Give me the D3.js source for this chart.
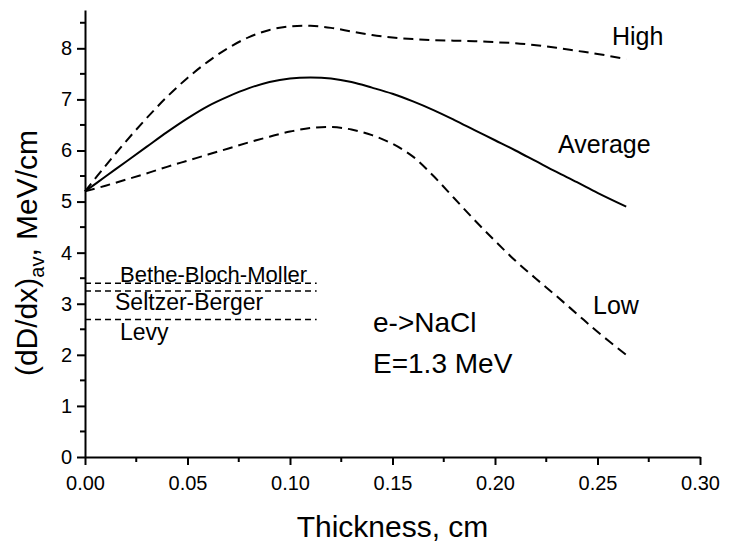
<!DOCTYPE html>
<html><head><meta charset="utf-8">
<script src="https://cdn.jsdelivr.net/npm/d3@7"></script>
<style>
html,body{margin:0;padding:0;background:#fff;}
svg{display:block;font-family:"Liberation Sans",Arial,Helvetica,sans-serif;}
</style></head>
<body><svg id="chart" width="736" height="545"></svg>
<script>
// ---- data ----
const thickness = [0,0.01,0.02,0.03,0.04,0.05,0.06,0.07,0.08,0.09,0.10,0.11,0.12,0.13,0.14,0.15,0.16,0.17,0.18,0.19,0.20,0.21,0.22,0.23,0.24,0.25,0.264];
const highValues = [5.2,5.70,6.18,6.63,7.05,7.42,7.74,8.01,8.22,8.36,8.43,8.44,8.40,8.33,8.26,8.21,8.18,8.16,8.15,8.14,8.12,8.10,8.06,8.01,7.95,7.89,7.79];
const averageValues = [5.2,5.49,5.78,6.07,6.36,6.63,6.87,7.06,7.22,7.34,7.41,7.43,7.41,7.34,7.23,7.11,6.96,6.79,6.60,6.40,6.20,6.00,5.79,5.58,5.38,5.17,4.90];
const lowValues = [5.2,5.31,5.43,5.55,5.68,5.80,5.92,6.04,6.16,6.27,6.37,6.44,6.46,6.41,6.30,6.13,5.88,5.50,5.07,4.64,4.23,3.84,3.49,3.15,2.80,2.45,2.0];
const seriesNames = ["High","Average","Low"];
const refNames = ["Bethe-Bloch-Moller","Seltzer-Berger","Levy"];
const refValues = [3.40,3.25,2.69];
const refRange = [0,0.113];
const xTicks = [0,0.05,0.10,0.15,0.20,0.25,0.30];
const yTicks = [0,1,2,3,4,5,6,7,8];
const annot = ["e->NaCl","E=1.3 MeV"];

// ---- chart ----
const svg = d3.select("#chart");
const x = d3.scaleLinear().domain([0,0.3]).range([85,700]);
const y = d3.scaleLinear().domain([0,8.75]).range([457,10]);

const xMinor = d3.range(0.025,0.3,0.05);
const yMinor = d3.range(0.5,8.75,1);

const gx = svg.append("g").attr("transform","translate(0,457)")
  .call(d3.axisBottom(x).tickValues(xTicks).tickFormat(d3.format(".2f")).tickSize(8).tickSizeOuter(0).tickPadding(11));
gx.append("g").selectAll("line").data(xMinor).join("line")
  .attr("x1",d=>x(d)).attr("x2",d=>x(d)).attr("y1",0).attr("y2",5);
const gy = svg.append("g").attr("transform","translate(85,0)")
  .call(d3.axisLeft(y).tickValues(yTicks).tickFormat(d3.format("d")).tickSize(8).tickSizeOuter(0).tickPadding(5));
gy.append("g").selectAll("line").data(yMinor).join("line")
  .attr("y1",d=>y(d)).attr("y2",d=>y(d)).attr("x1",0).attr("x2",-5);
[gx,gy].forEach(g=>{
  g.selectAll("path,line").attr("stroke","#000").attr("stroke-width",2);
  g.selectAll("text").attr("font-size",20).attr("fill","#000").attr("font-family",'"Liberation Sans",Arial,sans-serif');
});

// axis titles
svg.append("text").attr("x",x(0.15)).attr("y",537).attr("text-anchor","middle")
  .attr("font-size",30).text("Thickness, cm");
const yl = svg.append("text").attr("transform","translate(37,253) rotate(-90)")
  .attr("text-anchor","middle").attr("font-size",30);
yl.append("tspan").text("(dD/dx)");
yl.append("tspan").attr("font-size",20).attr("dy",7).text("av");
yl.append("tspan").attr("dy",-7).text(", MeV/cm");

// curves
const line = d3.line().x((d,i)=>x(thickness[i])).y(d=>y(d)).curve(d3.curveCatmullRom.alpha(0.5));
const seriesData = [highValues,averageValues,lowValues];
svg.append("g").selectAll("path").data(seriesData).join("path")
  .attr("d",d=>line(d)).attr("fill","none").attr("stroke","#000").attr("stroke-width",2)
  .attr("stroke-dasharray",(d,i)=>i===1?null:"10,6");

// reference lines
svg.append("g").selectAll("line").data(refValues).join("line")
  .attr("x1",x(refRange[0])).attr("x2",x(refRange[1]))
  .attr("y1",d=>y(d)).attr("y2",d=>y(d))
  .attr("stroke","#000").attr("stroke-width",1.5).attr("stroke-dasharray","6,4");

// labels
const lab = svg.append("g").attr("fill","#000");
lab.append("text").attr("x",612).attr("y",45).attr("font-size",25).text(seriesNames[0]);
lab.append("text").attr("x",558).attr("y",153).attr("font-size",25).text(seriesNames[1]);
lab.append("text").attr("x",593).attr("y",314).attr("font-size",25).text(seriesNames[2]);
lab.append("text").attr("x",120).attr("y",282).attr("font-size",22).text(refNames[0]);
lab.append("text").attr("x",115).attr("y",310).attr("font-size",23).text(refNames[1]);
lab.append("text").attr("x",120).attr("y",340).attr("font-size",23).text(refNames[2]);
lab.append("text").attr("x",373).attr("y",332).attr("font-size",28).text(annot[0]);
lab.append("text").attr("x",373).attr("y",373).attr("font-size",28).text(annot[1]);
</script></body></html>
